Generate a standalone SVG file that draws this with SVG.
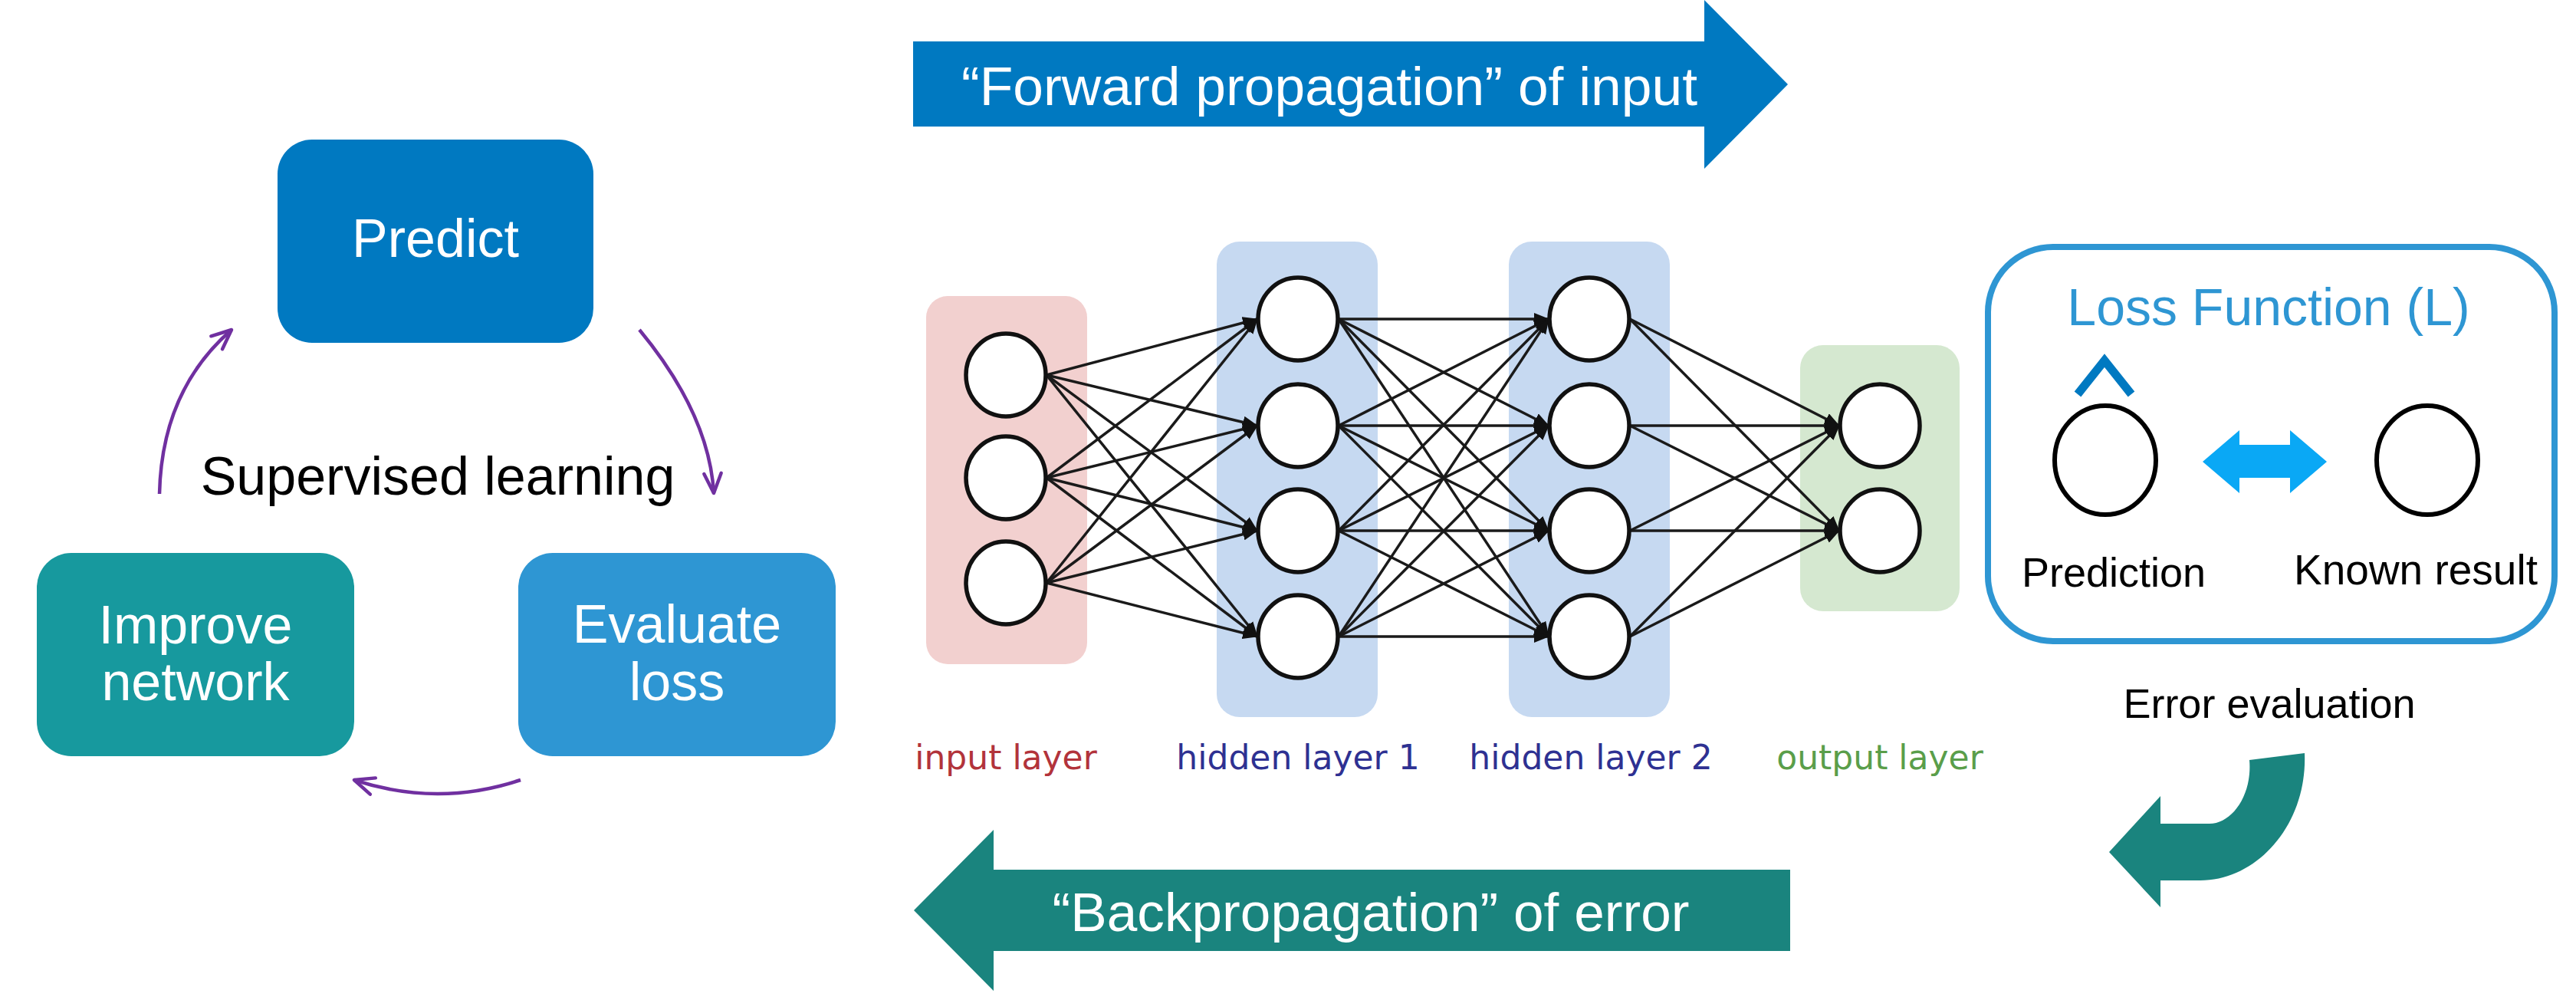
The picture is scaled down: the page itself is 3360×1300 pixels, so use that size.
<svg xmlns="http://www.w3.org/2000/svg" width="3360" height="1300" viewBox="0 0 3360 1300">
<defs>
<style>
.box{stroke:none}
.wt{fill:#ffffff;font-family:"Liberation Sans",Arial,sans-serif;font-size:70px;text-anchor:middle}
.bk{fill:#000000;font-family:"Liberation Sans",Arial,sans-serif;text-anchor:middle}
.lbl{font-family:"DejaVu Sans",Verdana,sans-serif;font-size:44px;text-anchor:middle}
.node{fill:#ffffff;stroke:#111111;stroke-width:5.5}
.edge{stroke:#1a1a1a;stroke-width:3.5;fill:none;marker-end:url(#ah)}
.cyc{stroke:#7030A0;stroke-width:4.5;fill:none;marker-end:url(#ph)}
</style>
<marker id="ah" viewBox="0 0 20 16" refX="19" refY="8" markerWidth="20" markerHeight="16" orient="auto" markerUnits="userSpaceOnUse">
<path d="M0,0 L20,8 L0,16 Z" fill="#111111"/>
</marker>
<marker id="ph" viewBox="0 0 20 20" refX="18" refY="10" markerWidth="32" markerHeight="32" orient="auto" markerUnits="userSpaceOnUse">
<path d="M2,3 L18,10 L2,17" fill="none" stroke="#7030A0" stroke-width="2.8" stroke-linecap="round" stroke-linejoin="round"/>
</marker>
</defs>
<rect width="3360" height="1300" fill="#ffffff"/>

<!-- Left cycle -->
<g id="predict">
<rect class="box" x="362" y="182" width="412" height="265" rx="45" fill="#0079C1"/>
<text class="wt" x="568" y="335">Predict</text>
</g>
<g id="evaluate-loss">
<rect class="box" x="676" y="721" width="414" height="265" rx="45" fill="#2E96D3"/>
<text class="wt" x="883" y="838">Evaluate</text>
<text class="wt" x="883" y="913">loss</text>
</g>
<g id="improve-network">
<rect class="box" x="48" y="721" width="414" height="265" rx="45" fill="#17999E"/>
<text class="wt" x="255" y="839">Improve</text>
<text class="wt" x="255" y="913">network</text>
</g>
<g id="supervised-label">
<text class="bk" x="571" y="645" font-size="70">Supervised learning</text>
</g>

<!-- Neural network layer backgrounds -->
<g id="input-layer">
<rect x="1208" y="386" width="210" height="480" rx="28" fill="#F2D0CF"/>
<text class="lbl" x="1312" y="1003" fill="#B2333B">input layer</text>
</g>
<g id="hidden-layer-1">
<rect x="1587" y="315" width="210" height="620" rx="30" fill="#C6D9F1"/>
<text class="lbl" x="1693" y="1003" fill="#2E3192">hidden layer 1</text>
</g>
<g id="hidden-layer-2">
<rect x="1968" y="315" width="210" height="620" rx="30" fill="#C6D9F1"/>
<text class="lbl" x="2075" y="1003" fill="#2E3192">hidden layer 2</text>
</g>
<g id="output-layer">
<rect x="2348" y="450" width="208" height="347" rx="30" fill="#D5E8D0"/>
<text class="lbl" x="2452" y="1003" fill="#5A9E4A">output layer</text>
</g>

<!-- Connectors -->
<g id="connectors">
<path class="cyc" d="M208 644 Q211 509 302 430"/>
<path class="cyc" d="M834 430 Q925 540 931 643"/>
<path class="cyc" d="M679 1017 Q571 1053 462 1017"/>

<line class="edge" x1="1365" y1="489" x2="1640" y2="416"/>
<line class="edge" x1="1365" y1="489" x2="1640" y2="555"/>
<line class="edge" x1="1365" y1="489" x2="1640" y2="692"/>
<line class="edge" x1="1365" y1="489" x2="1640" y2="830"/>
<line class="edge" x1="1365" y1="623" x2="1640" y2="416"/>
<line class="edge" x1="1365" y1="623" x2="1640" y2="555"/>
<line class="edge" x1="1365" y1="623" x2="1640" y2="692"/>
<line class="edge" x1="1365" y1="623" x2="1640" y2="830"/>
<line class="edge" x1="1365" y1="760" x2="1640" y2="416"/>
<line class="edge" x1="1365" y1="760" x2="1640" y2="555"/>
<line class="edge" x1="1365" y1="760" x2="1640" y2="692"/>
<line class="edge" x1="1365" y1="760" x2="1640" y2="830"/>

<line class="edge" x1="1746" y1="416" x2="2020" y2="416"/>
<line class="edge" x1="1746" y1="416" x2="2020" y2="555"/>
<line class="edge" x1="1746" y1="416" x2="2020" y2="692"/>
<line class="edge" x1="1746" y1="416" x2="2020" y2="830"/>
<line class="edge" x1="1746" y1="555" x2="2020" y2="416"/>
<line class="edge" x1="1746" y1="555" x2="2020" y2="555"/>
<line class="edge" x1="1746" y1="555" x2="2020" y2="692"/>
<line class="edge" x1="1746" y1="555" x2="2020" y2="830"/>
<line class="edge" x1="1746" y1="692" x2="2020" y2="416"/>
<line class="edge" x1="1746" y1="692" x2="2020" y2="555"/>
<line class="edge" x1="1746" y1="692" x2="2020" y2="692"/>
<line class="edge" x1="1746" y1="692" x2="2020" y2="830"/>
<line class="edge" x1="1746" y1="830" x2="2020" y2="416"/>
<line class="edge" x1="1746" y1="830" x2="2020" y2="555"/>
<line class="edge" x1="1746" y1="830" x2="2020" y2="692"/>
<line class="edge" x1="1746" y1="830" x2="2020" y2="830"/>

<line class="edge" x1="2126" y1="416" x2="2399" y2="555"/>
<line class="edge" x1="2126" y1="416" x2="2399" y2="692"/>
<line class="edge" x1="2126" y1="555" x2="2399" y2="555"/>
<line class="edge" x1="2126" y1="555" x2="2399" y2="692"/>
<line class="edge" x1="2126" y1="692" x2="2399" y2="555"/>
<line class="edge" x1="2126" y1="692" x2="2399" y2="692"/>
<line class="edge" x1="2126" y1="830" x2="2399" y2="555"/>
<line class="edge" x1="2126" y1="830" x2="2399" y2="692"/>
</g>

<!-- Neurons -->
<g id="in-1"><ellipse class="node" cx="1312" cy="489" rx="52" ry="54"/></g>
<g id="in-2"><ellipse class="node" cx="1312" cy="623" rx="52" ry="54"/></g>
<g id="in-3"><ellipse class="node" cx="1312" cy="760" rx="52" ry="54"/></g>
<g id="h1-1"><ellipse class="node" cx="1693" cy="416" rx="52" ry="54"/></g>
<g id="h1-2"><ellipse class="node" cx="1693" cy="555" rx="52" ry="54"/></g>
<g id="h1-3"><ellipse class="node" cx="1693" cy="692" rx="52" ry="54"/></g>
<g id="h1-4"><ellipse class="node" cx="1693" cy="830" rx="52" ry="54"/></g>
<g id="h2-1"><ellipse class="node" cx="2073" cy="416" rx="52" ry="54"/></g>
<g id="h2-2"><ellipse class="node" cx="2073" cy="555" rx="52" ry="54"/></g>
<g id="h2-3"><ellipse class="node" cx="2073" cy="692" rx="52" ry="54"/></g>
<g id="h2-4"><ellipse class="node" cx="2073" cy="830" rx="52" ry="54"/></g>
<g id="out-1"><ellipse class="node" cx="2452" cy="555" rx="52" ry="54"/></g>
<g id="out-2"><ellipse class="node" cx="2452" cy="692" rx="52" ry="54"/></g>

<!-- Forward / backward arrows -->
<g id="forward-arrow">
<polygon points="1191,54 2223,54 2223,0 2332,110 2223,220 2223,165 1191,165" fill="#0079C1"/>
<text class="wt" x="1734" y="137" textLength="960" lengthAdjust="spacingAndGlyphs">“Forward propagation” of input</text>
</g>
<g id="backward-arrow">
<polygon points="1192,1187 1296,1082 1296,1134 2335,1134 2335,1240 1296,1240 1296,1292" fill="#1A847E"/>
<text class="wt" x="1788" y="1214" textLength="831" lengthAdjust="spacingAndGlyphs">“Backpropagation” of error</text>
</g>

<!-- Loss function -->
<g id="loss-function">
<rect x="2593" y="322" width="739" height="514" rx="85" fill="#ffffff" stroke="#2E96D3" stroke-width="8"/>
<text x="2959" y="424" font-family="'Liberation Sans',Arial,sans-serif" font-size="68" fill="#2E96D3" text-anchor="middle">Loss Function (L)</text>
<polyline points="2710,514 2745,470 2780,514" fill="none" stroke="#0079C1" stroke-width="11"/>
<ellipse cx="2746" cy="600" rx="66" ry="71" fill="none" stroke="#000000" stroke-width="6"/>
<polygon points="2873,602 2921,561 2921,580 2987,580 2987,561 3035,602 2987,643 2987,623 2921,623 2921,643" fill="#0AA8F5"/>
<ellipse cx="3166" cy="600" rx="66" ry="71" fill="none" stroke="#000000" stroke-width="6"/>
<text class="bk" x="2757" y="765" font-size="54">Prediction</text>
<text class="bk" x="3151" y="762" font-size="55">Known result</text>
</g>
<g id="error-evaluation">
<text class="bk" x="2960" y="936" font-size="54">Error evaluation</text>
</g>
<g id="curved-arrow">
<path d="M3006 982 C3010 1074 2945 1148 2870 1148 L2818 1148 L2818 1183 L2751 1111 L2818 1038 L2818 1074 L2882 1074 C2911 1074 2938 1037 2934 991 Z" fill="#1A847E"/>
</g>
</svg>
